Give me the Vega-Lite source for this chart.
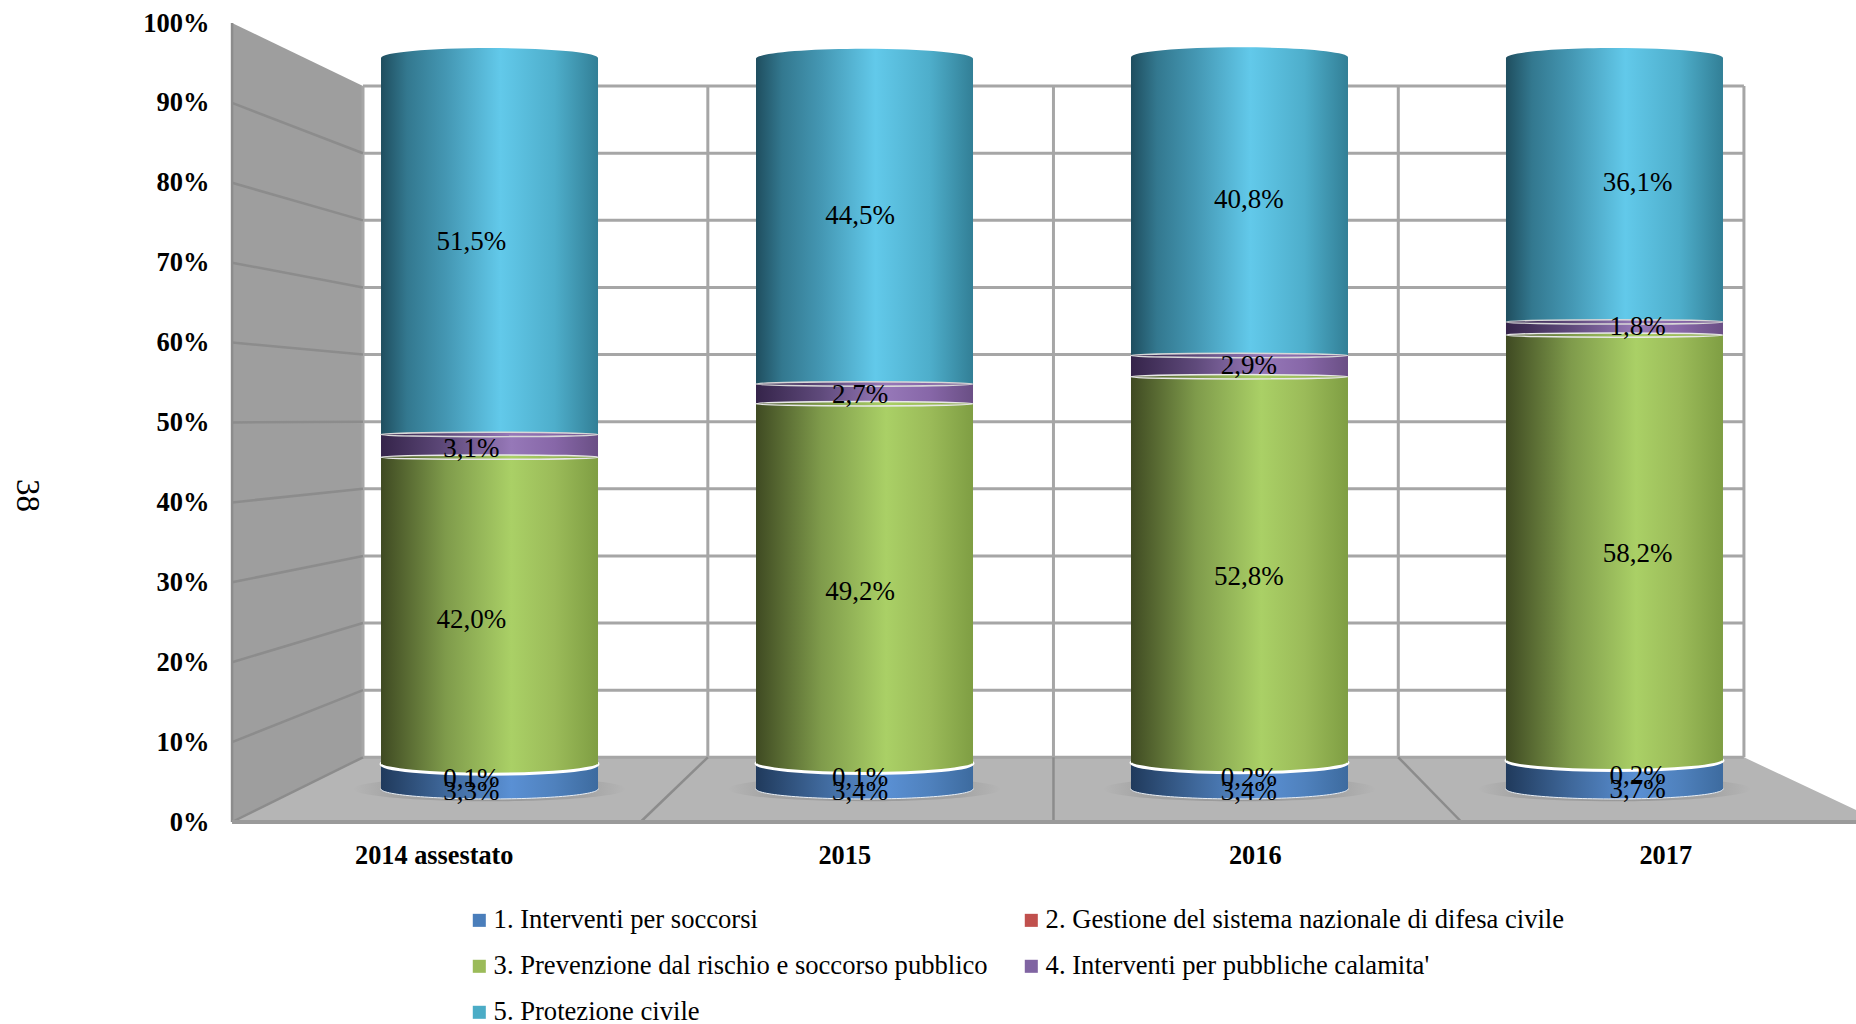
{
"$schema":"https://vega.github.io/schema/vega-lite/v6.json",
"width":1626,"height":799,
"autosize":{"type":"none"},
"padding":{"left":230,"top":23,"right":0,"bottom":202},
"background":"#ffffff",
"config":{"view":{"stroke":null},"font":"Liberation Serif"},
"data":{"values":[
{"year":"2014 assestato","series":"1. Interventi per soccorsi","value":3.3},
{"year":"2014 assestato","series":"2. Gestione del sistema nazionale di difesa civile","value":0.1},
{"year":"2014 assestato","series":"3. Prevenzione dal rischio e soccorso pubblico","value":42.0},
{"year":"2014 assestato","series":"4. Interventi per pubbliche calamita'","value":3.1},
{"year":"2014 assestato","series":"5. Protezione civile","value":51.5},
{"year":"2015","series":"1. Interventi per soccorsi","value":3.4},
{"year":"2015","series":"2. Gestione del sistema nazionale di difesa civile","value":0.1},
{"year":"2015","series":"3. Prevenzione dal rischio e soccorso pubblico","value":49.2},
{"year":"2015","series":"4. Interventi per pubbliche calamita'","value":2.7},
{"year":"2015","series":"5. Protezione civile","value":44.5},
{"year":"2016","series":"1. Interventi per soccorsi","value":3.4},
{"year":"2016","series":"2. Gestione del sistema nazionale di difesa civile","value":0.2},
{"year":"2016","series":"3. Prevenzione dal rischio e soccorso pubblico","value":52.8},
{"year":"2016","series":"4. Interventi per pubbliche calamita'","value":2.9},
{"year":"2016","series":"5. Protezione civile","value":40.8},
{"year":"2017","series":"1. Interventi per soccorsi","value":3.7},
{"year":"2017","series":"2. Gestione del sistema nazionale di difesa civile","value":0.2},
{"year":"2017","series":"3. Prevenzione dal rischio e soccorso pubblico","value":58.2},
{"year":"2017","series":"4. Interventi per pubbliche calamita'","value":1.8},
{"year":"2017","series":"5. Protezione civile","value":36.1}
]},
"transform":[
{"stack":"value","groupby":["year"],"sort":[{"field":"series"}],"as":["start","end"]},
{"calculate":"(datum.start+datum.end)/2","as":"mid"},
{"calculate":"replace(format(datum.value,'.1f'),'.',',')+'%'","as":"label"}
],
"resolve":{"scale":{"x":"independent","y":"independent","color":"independent"},"axis":{"x":"independent","y":"independent"}},
"layer":[
{"data":{"values":[{"x":0.005,"top":100,"bottom":0},{"x":0.324,"top":92.1,"bottom":8.1}]},
 "mark":{"type":"area","color":"#9e9e9e","orient":"vertical"},
 "encoding":{"x":{"field":"x","type":"quantitative","scale":{"domain":[0,3.961],"range":[0,1626]},"axis":null},
 "y":{"field":"top","type":"quantitative","scale":{"domain":[0,100],"range":[799,0]},"axis":null},"y2":{"field":"bottom"}}},
{"data":{"values":[{"y":0,"x":0.005,"x2":3.961},{"y":1.5,"x":0.065,"x2":3.961},{"y":8.1,"x":0.324,"x2":3.688}]},
 "mark":{"type":"area","color":"#b5b5b5","orient":"horizontal"},
 "encoding":{"y":{"field":"y","type":"quantitative","scale":{"domain":[0,100],"range":[799,0]},"axis":null},
 "x":{"field":"x","type":"quantitative","scale":{"domain":[0,3.961],"range":[0,1626]},"axis":null},"x2":{"field":"x2"}}},
{"data":{"values":[
{"x":0.324,"x2":3.688,"y":8.1,"y2":8.1},{"x":0.324,"x2":3.688,"y":16.5,"y2":16.5},{"x":0.324,"x2":3.688,"y":24.9,"y2":24.9},{"x":0.324,"x2":3.688,"y":33.3,"y2":33.3},{"x":0.324,"x2":3.688,"y":41.7,"y2":41.7},{"x":0.324,"x2":3.688,"y":50.1,"y2":50.1},{"x":0.324,"x2":3.688,"y":58.5,"y2":58.5},{"x":0.324,"x2":3.688,"y":66.9,"y2":66.9},{"x":0.324,"x2":3.688,"y":75.3,"y2":75.3},{"x":0.324,"x2":3.688,"y":83.7,"y2":83.7},{"x":0.324,"x2":3.688,"y":92.1,"y2":92.1},
{"x":0.324,"x2":0.324,"y":8.1,"y2":92.1},{"x":1.164,"x2":1.164,"y":8.1,"y2":92.1},{"x":2.006,"x2":2.006,"y":8.1,"y2":92.1},{"x":2.846,"x2":2.846,"y":8.1,"y2":92.1},{"x":3.688,"x2":3.688,"y":8.1,"y2":92.1}
]},
 "mark":{"type":"rule","color":"#a6a6a6","strokeWidth":3},
 "encoding":{"x":{"field":"x","type":"quantitative","scale":{"domain":[0,3.961],"range":[0,1626]},"axis":null},"x2":{"field":"x2"},
 "y":{"field":"y","type":"quantitative","scale":{"domain":[0,100],"range":[799,0]},"axis":null},"y2":{"field":"y2"}}},
{"data":{"values":[
{"x":0.005,"x2":0.324,"y":10,"y2":16.5},{"x":0.005,"x2":0.324,"y":20,"y2":24.9},{"x":0.005,"x2":0.324,"y":30,"y2":33.3},{"x":0.005,"x2":0.324,"y":40,"y2":41.7},{"x":0.005,"x2":0.324,"y":50,"y2":50.1},{"x":0.005,"x2":0.324,"y":60,"y2":58.5},{"x":0.005,"x2":0.324,"y":70,"y2":66.9},{"x":0.005,"x2":0.324,"y":80,"y2":75.3},{"x":0.005,"x2":0.324,"y":90,"y2":83.7},
{"x":0.005,"x2":0.324,"y":0,"y2":8.1},{"x":1,"x2":1.164,"y":0,"y2":8.1},{"x":2.006,"x2":2.006,"y":0,"y2":8.1},{"x":3,"x2":2.846,"y":0,"y2":8.1},{"x":0.005,"x2":0.005,"y":0,"y2":100}
]},
 "mark":{"type":"rule","color":"#8c8c8c","strokeWidth":2.5},
 "encoding":{"x":{"field":"x","type":"quantitative","scale":{"domain":[0,3.961],"range":[0,1626]},"axis":null},"x2":{"field":"x2"},
 "y":{"field":"y","type":"quantitative","scale":{"domain":[0,100],"range":[799,0]},"axis":null},"y2":{"field":"y2"}}},
{"data":{"values":[{"x":0.005,"x2":3.961,"y":0,"y2":0}]},
 "mark":{"type":"rule","color":"#9a9a9a","strokeWidth":4},
 "encoding":{"x":{"field":"x","type":"quantitative","scale":{"domain":[0,3.961],"range":[0,1626]},"axis":null},"x2":{"field":"x2"},
 "y":{"field":"y","type":"quantitative","scale":{"domain":[0,100],"range":[799,0]},"axis":null},"y2":{"field":"y2"}}},

{"transform":[{"filter":"datum.series[0]=='1'"}],
 "mark":{"type":"point","filled":true,"opacity":1,"size":74529,"shape":"M-1,0A1,0.09,0,1,1,1,0A1,0.09,0,1,1,-1,0Z",
 "fill":{"gradient":"radial","x1":0.5,"y1":0.5,"r1":0,"x2":0.5,"y2":0.5,"r2":0.5,"stops":[{"offset":0,"color":"#989898"},{"offset":0.7,"color":"#a4a4a4"},{"offset":1,"color":"#b5b5b5"}]}},
 "encoding":{"x":{"field":"year","type":"nominal","scale":{"type":"band","range":[72,1572],"paddingInner":0.4213,"paddingOuter":0.2107},"axis":null},
 "y":{"field":"start","type":"quantitative","scale":{"domain":[0,100],"range":[766,35]},"axis":null}}},

{"transform":[{"filter":"datum.series[0]=='5'"}],
 "mark":{"type":"bar","color":{"gradient":"linear","x1":0,"y1":0,"x2":1,"y2":0,"stops":[{"offset":0,"color":"#1f4e5f"},{"offset":0.12,"color":"#33788f"},{"offset":0.3,"color":"#4497b3"},{"offset":0.55,"color":"#62c9ea"},{"offset":0.8,"color":"#4eaecb"},{"offset":1,"color":"#327f96"}]}},
 "encoding":{"x":{"field":"year","type":"nominal","scale":{"type":"band","range":[72,1572],"paddingInner":0.4213,"paddingOuter":0.2107},"axis":null},
 "y":{"field":"start","type":"quantitative","scale":{"domain":[0,100],"range":[766,35]},"axis":null},"y2":{"field":"end"}}},
{"transform":[{"filter":"datum.series[0]=='5'"}],
 "mark":{"type":"point","filled":true,"opacity":1,"size":47089,"shape":"M-1,0A1,0.092,0,1,1,1,0A1,0.092,0,1,1,-1,0Z",
 "fill":{"gradient":"linear","x1":0,"y1":0,"x2":1,"y2":0,"stops":[{"offset":0,"color":"#1f4e5f"},{"offset":0.12,"color":"#33788f"},{"offset":0.3,"color":"#4497b3"},{"offset":0.55,"color":"#62c9ea"},{"offset":0.8,"color":"#4eaecb"},{"offset":1,"color":"#327f96"}]}},
 "encoding":{"x":{"field":"year","type":"nominal","scale":{"type":"band","range":[72,1572],"paddingInner":0.4213,"paddingOuter":0.2107},"axis":null},
 "y":{"field":"end","type":"quantitative","scale":{"domain":[0,100],"range":[766,35]},"axis":null}}},

{"transform":[{"filter":"datum.series[0]=='4'"}],
 "mark":{"type":"bar","color":{"gradient":"linear","x1":0,"y1":0,"x2":1,"y2":0,"stops":[{"offset":0,"color":"#35244a"},{"offset":0.3,"color":"#5f4a7b"},{"offset":0.6,"color":"#9678b8"},{"offset":0.8,"color":"#8767a8"},{"offset":1,"color":"#6a4f85"}]}},
 "encoding":{"x":{"field":"year","type":"nominal","scale":{"type":"band","range":[72,1572],"paddingInner":0.4213,"paddingOuter":0.2107},"axis":null},
 "y":{"field":"start","type":"quantitative","scale":{"domain":[0,100],"range":[766,35]},"axis":null},"y2":{"field":"end"}}},
{"transform":[{"filter":"datum.series[0]=='4'"}],
 "mark":{"type":"point","filled":true,"opacity":1,"size":47089,"stroke":"#d8d8d8","strokeWidth":1.5,"shape":"M-1,0A1,0.02,0,1,1,1,0A1,0.02,0,1,1,-1,0Z",
 "fill":{"gradient":"linear","x1":0,"y1":0,"x2":1,"y2":0,"stops":[{"offset":0,"color":"#35244a"},{"offset":0.3,"color":"#5f4a7b"},{"offset":0.6,"color":"#9678b8"},{"offset":0.8,"color":"#8767a8"},{"offset":1,"color":"#6a4f85"}]}},
 "encoding":{"x":{"field":"year","type":"nominal","scale":{"type":"band","range":[72,1572],"paddingInner":0.4213,"paddingOuter":0.2107},"axis":null},
 "y":{"field":"end","type":"quantitative","scale":{"domain":[0,100],"range":[766,35]},"axis":null}}},

{"transform":[{"filter":"datum.series[0]=='1'"}],
 "mark":{"type":"point","filled":true,"opacity":1,"size":47089,"stroke":"#e8eef5","strokeWidth":1,"shape":"M-1,0A1,0.092,0,1,1,1,0A1,0.092,0,1,1,-1,0Z",
 "fill":{"gradient":"linear","x1":0,"y1":0,"x2":1,"y2":0,"stops":[{"offset":0,"color":"#203a5c"},{"offset":0.3,"color":"#3f689b"},{"offset":0.6,"color":"#5a90d4"},{"offset":0.8,"color":"#4f81bd"},{"offset":1,"color":"#3d6b9f"}]}},
 "encoding":{"x":{"field":"year","type":"nominal","scale":{"type":"band","range":[72,1572],"paddingInner":0.4213,"paddingOuter":0.2107},"axis":null},
 "y":{"field":"start","type":"quantitative","scale":{"domain":[0,100],"range":[766,35]},"axis":null}}},
{"transform":[{"filter":"datum.series[0]=='1'"}],
 "mark":{"type":"bar","color":{"gradient":"linear","x1":0,"y1":0,"x2":1,"y2":0,"stops":[{"offset":0,"color":"#203a5c"},{"offset":0.3,"color":"#3f689b"},{"offset":0.6,"color":"#5a90d4"},{"offset":0.8,"color":"#4f81bd"},{"offset":1,"color":"#3d6b9f"}]}},
 "encoding":{"x":{"field":"year","type":"nominal","scale":{"type":"band","range":[72,1572],"paddingInner":0.4213,"paddingOuter":0.2107},"axis":null},
 "y":{"field":"start","type":"quantitative","scale":{"domain":[0,100],"range":[766,35]},"axis":null},"y2":{"field":"end"}}},
{"transform":[{"filter":"datum.series[0]=='2'"}],
 "mark":{"type":"bar","color":"#f3f3f3"},
 "encoding":{"x":{"field":"year","type":"nominal","scale":{"type":"band","range":[72,1572],"paddingInner":0.4213,"paddingOuter":0.2107},"axis":null},
 "y":{"field":"start","type":"quantitative","scale":{"domain":[0,100],"range":[766,35]},"axis":null},"y2":{"field":"end"}}},

{"transform":[{"filter":"datum.series[0]=='3'"}],
 "mark":{"type":"point","filled":true,"opacity":1,"size":47089,"stroke":"#ffffff","strokeWidth":3,"shape":"M-1,0A1,0.092,0,1,1,1,0A1,0.092,0,1,1,-1,0Z",
 "fill":{"gradient":"linear","x1":0,"y1":0,"x2":1,"y2":0,"stops":[{"offset":0,"color":"#3f4a22"},{"offset":0.3,"color":"#7f9b4b"},{"offset":0.6,"color":"#aad066"},{"offset":0.8,"color":"#9bbb59"},{"offset":1,"color":"#7f9e43"}]}},
 "encoding":{"x":{"field":"year","type":"nominal","scale":{"type":"band","range":[72,1572],"paddingInner":0.4213,"paddingOuter":0.2107},"axis":null},
 "y":{"field":"start","type":"quantitative","scale":{"domain":[0,100],"range":[766,35]},"axis":null}}},
{"transform":[{"filter":"datum.series[0]=='3'"}],
 "mark":{"type":"bar","color":{"gradient":"linear","x1":0,"y1":0,"x2":1,"y2":0,"stops":[{"offset":0,"color":"#3f4a22"},{"offset":0.3,"color":"#7f9b4b"},{"offset":0.6,"color":"#aad066"},{"offset":0.8,"color":"#9bbb59"},{"offset":1,"color":"#7f9e43"}]}},
 "encoding":{"x":{"field":"year","type":"nominal","scale":{"type":"band","range":[72,1572],"paddingInner":0.4213,"paddingOuter":0.2107},"axis":null},
 "y":{"field":"start","type":"quantitative","scale":{"domain":[0,100],"range":[766,35]},"axis":null},"y2":{"field":"end"}}},
{"transform":[{"filter":"datum.series[0]=='3'"}],
 "mark":{"type":"point","filled":true,"opacity":1,"size":47089,"stroke":"#e8e8e8","strokeWidth":1.5,"shape":"M-1,0A1,0.02,0,1,1,1,0A1,0.02,0,1,1,-1,0Z",
 "fill":{"gradient":"linear","x1":0,"y1":0,"x2":1,"y2":0,"stops":[{"offset":0,"color":"#3f4a22"},{"offset":0.3,"color":"#7f9b4b"},{"offset":0.6,"color":"#aad066"},{"offset":0.8,"color":"#9bbb59"},{"offset":1,"color":"#7f9e43"}]}},
 "encoding":{"x":{"field":"year","type":"nominal","scale":{"type":"band","range":[72,1572],"paddingInner":0.4213,"paddingOuter":0.2107},"axis":null},
 "y":{"field":"end","type":"quantitative","scale":{"domain":[0,100],"range":[766,35]},"axis":null}}},

{"mark":{"type":"text","font":"Liberation Serif","fontSize":27,"color":"#000000","align":"center","baseline":"middle"},
 "encoding":{"x":{"field":"year","type":"nominal","scale":{"type":"band","range":[47,1602]},"axis":null},
 "y":{"field":"mid","type":"quantitative","scale":{"domain":[0,100],"range":[781.5,23.5]},"axis":null},
 "text":{"field":"label"}}},

{"mark":{"type":"point","filled":true,"opacity":0,"size":1},
 "encoding":{
 "x":{"field":"year","type":"nominal","scale":{"type":"band","range":[-1,1641]},
  "axis":{"title":null,"orient":"bottom","domain":false,"ticks":false,"grid":false,"labelAngle":0,"labelFont":"Liberation Serif","labelFontWeight":"bold","labelFontSize":26.3,"labelColor":"#000000","labelPadding":20}},
 "y":{"field":"end","type":"quantitative","scale":{"domain":[0,100],"range":[799,0]},
  "axis":{"title":"38","titleAngle":90,"titleX":-204,"titleY":472,"titleFont":"Liberation Serif","titleFontWeight":"normal","titleFontSize":33,"titleColor":"#000000","titleAlign":"center","titleBaseline":"middle",
   "values":[0,10,20,30,40,50,60,70,80,90,100],"labelExpr":"datum.value+'%'","domain":false,"ticks":false,"grid":false,"labelFont":"Liberation Serif","labelFontWeight":"bold","labelFontSize":26.5,"labelColor":"#000000","labelPadding":21}},
 "color":{"field":"series","type":"nominal","scale":{"range":["#4a7ebb","#c0504d","#9bbb59","#8064a2","#4bacc6"]},
  "legend":{"title":null,"orient":"none","legendX":236,"legendY":884,"direction":"horizontal","columns":2,"symbolType":"square","symbolSize":170,"symbolOpacity":1,"symbolStrokeWidth":0,"labelFont":"Liberation Serif","labelFontSize":26.6,"labelColor":"#000000","labelOffset":1,"labelLimit":700,"rowPadding":19,"columnPadding":30}}
 }}
]
}
